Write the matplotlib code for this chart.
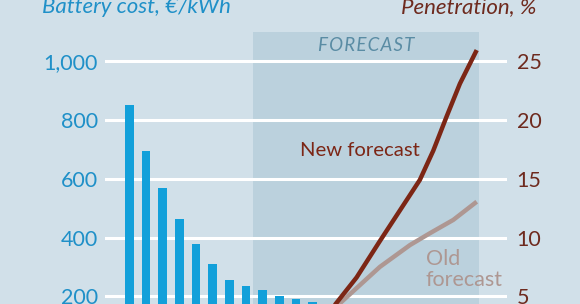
import matplotlib.pyplot as plt
import numpy as np

# data
bar_years = np.arange(2009, 2021)
battery_cost = [850, 695, 568, 464, 379, 311, 254, 234, 220, 202, 190, 179]

new_years = [2021.2, 2022.65, 2024.05, 2026.45, 2027.26, 2028.06, 2028.86, 2029.87]
new_pen = [4.0, 6.6, 9.7, 14.9, 17.4, 20.3, 23.1, 25.96]

old_years = [2021.2, 2021.65, 2024.05, 2025.86, 2027.05, 2028.46, 2029.87]
old_pen = [4.0, 4.4, 7.5, 9.36, 10.36, 11.5, 13.05]

left_ticks = [200, 400, 600, 800, 1000]
left_labels = ['200', '400', '600', '800', '1,000']
right_ticks = [5, 10, 15, 20, 25]
right_labels = ['5', '10', '15', '20', '25']

forecast_start, forecast_end = 2016.45, 2030.0

# colours
bg = '#d1e0e9'
shade = '#bbd1dd'
blue = '#12a0da'
blue_txt = '#1f90c8'
red_txt = '#6e2a1e'
new_col = '#7c2615'
old_col = '#ae9792'

plt.rcParams['font.family'] = ['Lato', 'DejaVu Sans']

fig = plt.figure(figsize=(5.8, 3.04), dpi=100, facecolor=bg)
ax = fig.add_axes([105 / 580, 0, 402 / 580, 272 / 304])
ax.set_facecolor(bg)
ax.set_xlim(2007.53, 2031.69)
ax.set_ylim(173.6, 1100)

ax.axvspan(forecast_start, forecast_end, color=shade, lw=0, zorder=0)
for t in left_ticks:
    ax.axhline(t, color='white', lw=2.2, zorder=1)
ax.bar(bar_years, battery_cost, width=0.52, color=blue, zorder=2)

ax.set_yticks(left_ticks)
ax.set_yticklabels(left_labels)
ax.tick_params(axis='y', length=0, pad=5, labelsize=15.5, labelcolor=blue_txt)
ax.set_xticks([])
for s in ax.spines.values():
    s.set_visible(False)

ax2 = ax.twinx()
ax2.set_ylim(173.6 / 40, 1100 / 40)
ax2.set_yticks(right_ticks)
ax2.set_yticklabels(right_labels)
ax2.tick_params(axis='y', length=0, pad=7, labelsize=15.5, labelcolor=red_txt)
for s in ax2.spines.values():
    s.set_visible(False)
ax2.patch.set_visible(False)

ax2.plot(old_years, old_pen, color=old_col, lw=3.2, solid_capstyle='butt', zorder=3)
ax2.plot(new_years, new_pen, color=new_col, lw=3.2, solid_capstyle='butt', zorder=4)

ax.text((forecast_start + forecast_end) / 2, 1055, 'F\u200aO\u200aR\u200aE\u200aC\u200aA\u200aS\u200aT',
        ha='center', va='center', fontsize=13.5, style='italic', color='#5a8ca4')
ax2.text(2019.25, 16.94, 'New forecast', fontsize=14.6, color=new_col, va='baseline')
ax2.text(2026.8, 5.87, 'Old\nforecast', fontsize=15.5, color=old_col, va='baseline',
         linespacing=1.05)

fig.text(42 / 580, 1 - 13 / 304, 'Battery cost, €/kWh', fontsize=16, style='italic',
         color=blue_txt, va='baseline', ha='left')
fig.text(536 / 580, 1 - 13 / 304, 'Penetration, %', fontsize=16, style='italic',
         color=red_txt, va='baseline', ha='right')

fig.savefig('out.png', dpi=100, facecolor=bg)
